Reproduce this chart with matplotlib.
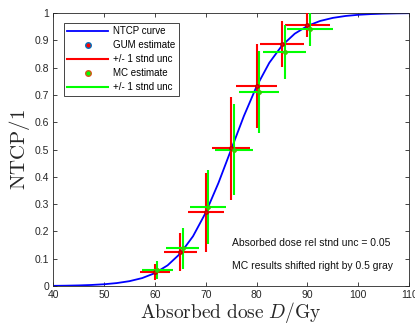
import matplotlib
matplotlib.use("Agg")
import matplotlib.pyplot as plt
from matplotlib.lines import Line2D

plt.rcParams['font.family'] = ['Liberation Sans', 'DejaVu Sans']
plt.rcParams['mathtext.fontset'] = 'cm'

# NTCP curve
curve_dose = [40, 42.5, 45, 47.5, 50, 52.5, 55, 57.5, 60, 62.5, 65, 67.5, 70, 72.5, 75,
              77.5, 80, 82.5, 85, 87.5, 90, 92.5, 95, 97.5, 100, 102.5, 105, 107.5, 110]
curve_ntcp = [0.0009, 0.0015, 0.0025, 0.0041, 0.0067, 0.0110, 0.0180, 0.0293, 0.0474,
              0.0759, 0.1192, 0.1824, 0.2689, 0.3775, 0.5, 0.6225, 0.7311, 0.8176,
              0.8808, 0.9241, 0.9526, 0.9707, 0.9820, 0.9890, 0.9933, 0.9959, 0.9975,
              0.9985, 0.9991]

# GUM estimates
gum_dose = [60, 65, 70, 75, 80, 85, 90]
gum_ntcp = [0.051, 0.125, 0.27, 0.505, 0.733, 0.886, 0.956]
gum_yerr = [0.030, 0.068, 0.145, 0.188, 0.155, 0.085, 0.045]
gum_xerr = [3.0, 3.25, 3.5, 3.75, 4.0, 4.25, 4.5]

# MC estimates (shifted right by 0.5 Gy)
mc_dose = [60.5, 65.5, 70.5, 75.5, 80.5, 85.5, 90.5]
mc_ntcp = [0.059, 0.139, 0.29, 0.50, 0.71, 0.857, 0.94]
mc_yerr = [0.033, 0.075, 0.135, 0.168, 0.15, 0.10, 0.06]
mc_xerr = [3.0, 3.25, 3.5, 3.75, 4.0, 4.25, 4.5]

fig = plt.figure(figsize=(4.15, 3.24), dpi=100)
ax = fig.add_axes([0.128, 0.117, 0.858, 0.843])

ax.plot(curve_dose, curve_ntcp, color='#0000ff', lw=1.3, zorder=2)

ax.errorbar(gum_dose, gum_ntcp, yerr=gum_yerr, xerr=gum_xerr, fmt='none',
            ecolor='#ff0000', elinewidth=1.5, capsize=0, zorder=3)
ax.plot(gum_dose, gum_ntcp, 'o', ms=2.5, mfc='#ff0000', mec='#c00000', zorder=4)

ax.errorbar(mc_dose, mc_ntcp, yerr=mc_yerr, xerr=mc_xerr, fmt='none',
            ecolor='#00ff00', elinewidth=1.5, capsize=0, zorder=3)
ax.plot(mc_dose, mc_ntcp, 'o', ms=2.5, mfc='#00ff00', mec='#40c000', zorder=4)

ax.set_xlim(40, 110)
ax.set_ylim(0, 1)
ax.set_xticks([40, 50, 60, 70, 80, 90, 100, 110])
ax.set_yticks([0, 0.1, 0.2, 0.3, 0.4, 0.5, 0.6, 0.7, 0.8, 0.9, 1])
ax.set_yticklabels(['0', '0.1', '0.2', '0.3', '0.4', '0.5', '0.6', '0.7', '0.8', '0.9', '1'])
ax.tick_params(direction='in', top=True, right=True, length=3, width=0.6,
               labelsize=7.5, colors='#262626', pad=3)
for s in ax.spines.values():
    s.set_color('#262626')
    s.set_linewidth(0.6)

ax.set_xlabel(r'$\mathrm{Absorbed\ dose}\ D/\mathrm{Gy}$', fontsize=14, color='#262626', labelpad=-0.5)
ax.set_ylabel(r'$\mathrm{NTCP}/1$', fontsize=15, color='#262626', labelpad=2)

ax.text(75.2, 0.157, 'Absorbed dose rel stnd unc = 0.05', fontsize=7.5,
        va='center', color='#111111')
ax.text(75.2, 0.073, 'MC results shifted right by 0.5 gray', fontsize=7.5,
        va='center', color='#111111')

handles = [
    Line2D([], [], color='#0000ff', lw=1.3),
    Line2D([], [], ls='none', marker='o', ms=4, mfc='#ff0000', mec='#0072bd'),
    Line2D([], [], color='#ff0000', lw=1.5),
    Line2D([], [], ls='none', marker='o', ms=4, mfc='#00ff00', mec='#d95319'),
    Line2D([], [], color='#00ff00', lw=1.5),
]
labels = ['NTCP curve', 'GUM estimate', '+/- 1 stnd unc', 'MC estimate', '+/- 1 stnd unc']
leg = ax.legend(handles, labels, loc='upper left', bbox_to_anchor=(0.03, 0.965),
                fontsize=7, fancybox=False, edgecolor='#262626', framealpha=1,
                handlelength=4.2, handletextpad=0.5, labelspacing=0.42,
                borderpad=0.35, borderaxespad=0)
leg.get_frame().set_linewidth(0.6)

fig.savefig('out.png', dpi=100)
